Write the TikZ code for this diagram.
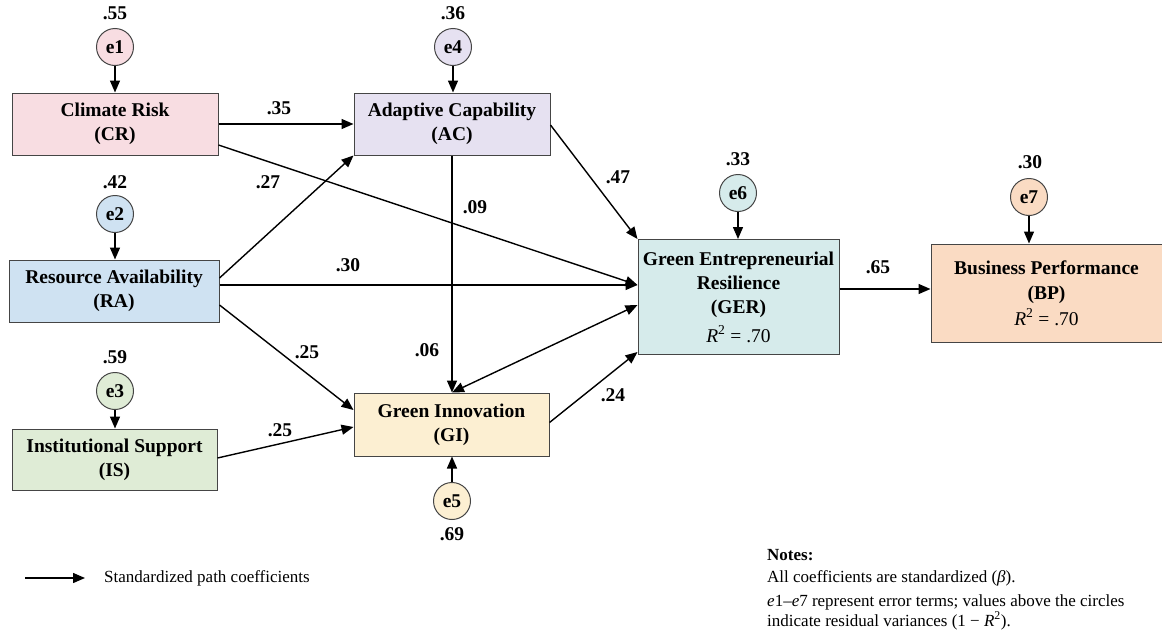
\documentclass[tikz,border=0pt]{standalone}
\usepackage{fontspec}
\setmainfont{Liberation Serif}
\usepackage{xcolor}
\usepackage{tikz}
\usetikzlibrary{arrows.meta, positioning, calc}
\definecolor{softpink}{HTML}{F8DDE2}
\definecolor{softlilac}{HTML}{E6E1F1}
\definecolor{softblue}{HTML}{CFE2F2}
\definecolor{softgreen}{HTML}{DFECD6}
\definecolor{softyellow}{HTML}{FCEFD2}
\definecolor{softteal}{HTML}{D6EBEB}
\definecolor{softpeach}{HTML}{FADBC3}
\definecolor{edgegray}{HTML}{454545}

\begin{document}
\begin{tikzpicture}[
x=1pt, y=-1pt,
every node/.style={align=center, font=\bfseries\fontsize{19.5}{24}\selectfont},
arrow/.style={-{Triangle[length=12pt, width=10pt]}, line width=1.4pt},
biarrow/.style={{Triangle[length=12pt, width=10pt]}-{Triangle[length=12pt, width=10pt]}, line width=1.4pt}
]

\useasboundingbox (0,0) rectangle (1162,632);

% Define styles
\tikzstyle{construct} = [rectangle, draw=edgegray, line width=1pt, inner sep=2pt]
\tikzstyle{risk} = [construct, fill=softpink, minimum width=206pt, minimum height=62pt]
\tikzstyle{resource} = [construct, fill=softblue, minimum width=210pt, minimum height=62pt]
\tikzstyle{support} = [construct, fill=softgreen, minimum width=205pt, minimum height=61pt]
\tikzstyle{adaptive} = [construct, fill=softlilac, minimum width=196pt, minimum height=62pt]
\tikzstyle{innovation} = [construct, fill=softyellow, minimum width=195pt, minimum height=63pt]
\tikzstyle{resilience} = [construct, fill=softteal, minimum width=201pt, minimum height=115pt]
\tikzstyle{performance} = [construct, fill=softpeach, minimum width=231pt, minimum height=98pt]
\tikzstyle{errterm} = [circle, draw=edgegray, line width=1pt, minimum size=37pt, inner sep=0pt]
\tikzstyle{coef} = [inner sep=1pt]
\tikzstyle{note} = [font=\fontsize{17}{20}\selectfont, align=left, inner sep=0pt]

% Constructs
\node (CR) [risk] at (115,124) {Climate Risk\\(CR)};
\node (RA) [resource] at (114,291) {Resource Availability\\(RA)};
\node (IS) [support] at (114.5,459.5) {Institutional Support\\(IS)};
\node (AC) [adaptive] at (452,124) {Adaptive Capability\\(AC)};
\node (GI) [innovation] at (451.5,424.5) {Green Innovation\\(GI)};
\node (GER) [resilience] at (738.5,297) {Green Entrepreneurial\\Resilience\\(GER)\\[5pt]{\mdseries\textit{R}\textsuperscript{2} = .70}};
\node (BP) [performance] at (1046.5,293) {Business Performance\\[1pt](BP)\\[2pt]{\mdseries\textit{R}\textsuperscript{2} = .70}};

% Error terms
\node (e1) [errterm, fill=softpink] at (115,47) {e1};
\node (e2) [errterm, fill=softblue] at (115,214) {e2};
\node (e3) [errterm, fill=softgreen] at (115,391) {e3};
\node (e4) [errterm, fill=softlilac] at (453,47) {e4};
\node (e5) [errterm, fill=softyellow] at (452,501) {e5};
\node (e6) [errterm, fill=softteal] at (738,193) {e6};
\node (e7) [errterm, fill=softpeach] at (1029,197) {e7};

% Residual variances
\node (v1) [coef] at (115,13) {.55};
\node (v2) [coef] at (115,182) {.42};
\node (v3) [coef] at (115,357) {.59};
\node (v4) [coef] at (453,13) {.36};
\node (v5) [coef] at (452,534) {.69};
\node (v6) [coef] at (738,159) {.33};
\node (v7) [coef] at (1030,162) {.30};

% Error arrows
\draw [arrow] (e1) -- (e1 |- CR.north);
\draw [arrow] (e2) -- (e2 |- RA.north);
\draw [arrow] (e3) -- (e3 |- IS.north);
\draw [arrow] (e4) -- (e4 |- AC.north);
\draw [arrow] (e5) -- (e5 |- GI.south);
\draw [arrow] (e6) -- (e6 |- GER.north);
\draw [arrow] (e7) -- (e7 |- BP.north);

% Paths
\draw [arrow] (CR.east) -- (AC.west);
\draw [arrow] ($(CR.east)+(0,21)$) -- ($(GER.west)+(0,-12)$);
\draw [arrow] ($(RA.east)+(0,-13)$) -- (AC.south west);
\draw [arrow] ($(RA.east)+(0,-6)$) -- ($(GER.west)+(0,-12)$);
\draw [arrow] ($(RA.east)+(0,14)$) -- ($(GI.west)+(0,-14.5)$);
\draw [arrow] ($(IS.east)+(0,-1.5)$) -- ($(GI.west)+(0,2.5)$);
\draw [arrow] (AC.south) -- (AC.south |- GI.north);
\draw [arrow] ($(AC.east)+(0,1)$) -- (GER.north west);
\draw [biarrow] (AC.south |- GI.north) -- ($(GER.west)+(0,8)$);
\draw [arrow] ($(GI.east)+(0,-2)$) -- ($(GER.south west)+(0,-3)$);
\draw [arrow] ($(GER.east)+(0,-8)$) -- ($(BP.west)+(0,-4)$);

% Path coefficients
\node (c35) [coef] at (279,108) {.35};
\node (c27) [coef] at (268,182) {.27};
\node (c09) [coef] at (475,207) {.09};
\node (c30) [coef] at (348,265) {.30};
\node (c25a) [coef] at (307,352) {.25};
\node (c06) [coef] at (427,350) {.06};
\node (c25b) [coef] at (280,430) {.25};
\node (c47) [coef] at (618,177) {.47};
\node (c24) [coef] at (613,395) {.24};
\node (c65) [coef] at (878,267) {.65};

% Legend
\coordinate (legstart) at (25,578);
\coordinate (legtip) at (85,578);
\draw [arrow] (legstart) -- (legtip);
\node (legtext) [note, anchor=west] at (104,578) {Standardized path coefficients};

% Notes
\node (notetitle) [note, anchor=west, font=\bfseries\fontsize{17}{20}\selectfont] at (767,555) {Notes:};
\node (note1) [note, anchor=west] at (767,578) {All coefficients are standardized (\textit{β}).};
\node (note2) [note, anchor=west] at (767,612) {\textit{e}1–\textit{e}7 represent error terms; values above the circles\\indicate residual variances (1 − \textit{R}\textsuperscript{2}).};

\end{tikzpicture}
\end{document}
